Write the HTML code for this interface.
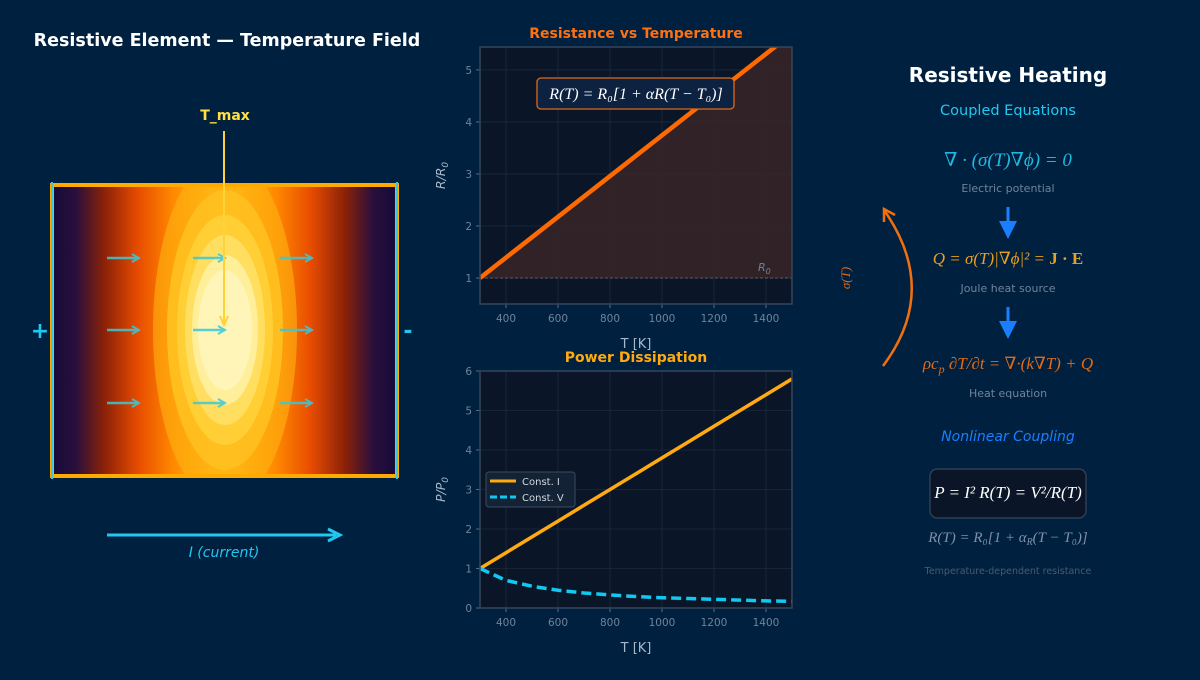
<!DOCTYPE html>
<html><head><meta charset="utf-8">
<style>
body{margin:0;background:#00203f;width:1200px;height:675px;overflow:hidden;font-family:"Liberation Sans","DejaVu Sans",sans-serif}
svg text{font-family:"DejaVu Sans","Liberation Sans",sans-serif}
.m{font-family:"Liberation Serif","DejaVu Serif",serif}
</style></head>
<body>
<svg width="1200" height="675" viewBox="0 0 1200 675">
<defs>
<linearGradient id="hg" x1="0" x2="1" y1="0" y2="0">
<stop offset="0" stop-color="#150b3a"/><stop offset="0.07" stop-color="#2a0f3c"/>
<stop offset="0.15" stop-color="#8a2108"/><stop offset="0.25" stop-color="#e84c00"/>
<stop offset="0.35" stop-color="#ff8800"/><stop offset="0.45" stop-color="#ffb010"/>
<stop offset="0.5" stop-color="#ffb814"/><stop offset="0.55" stop-color="#ffb010"/>
<stop offset="0.65" stop-color="#ff8800"/><stop offset="0.75" stop-color="#e84c00"/>
<stop offset="0.85" stop-color="#8a2108"/><stop offset="0.93" stop-color="#2a0f3c"/>
<stop offset="1" stop-color="#150b3a"/></linearGradient>
<clipPath id="hclip"><rect x="52" y="185" width="345" height="291"/></clipPath>
<marker id="ac" markerWidth="10" markerHeight="10" refX="8" refY="5" orient="auto" markerUnits="userSpaceOnUse"><path d="M1,1 L8,5 L1,9" fill="none" stroke="#3cc8d8" stroke-width="2"/></marker>
<marker id="ab" markerWidth="6" markerHeight="6" refX="3" refY="3" orient="auto"><path d="M0,0 L6,3 L0,6 z" fill="#1a7fff"/></marker>
</defs>

<!-- left panel -->
<text x="227" y="46" fill="#fff" font-size="17.5" font-weight="bold" text-anchor="middle">Resistive Element — Temperature Field</text>
<g>
<rect x="52" y="185" width="345" height="291" fill="url(#hg)"/>
<g clip-path="url(#hclip)">
<ellipse cx="225" cy="330" rx="72" ry="175" fill="#ffb310" opacity="0.6"/>
<ellipse cx="225" cy="330" rx="58" ry="140" fill="#ffc020" opacity="0.9"/>
<ellipse cx="225" cy="330" rx="48" ry="115" fill="#ffcf35"/>
<ellipse cx="225" cy="330" rx="40" ry="95" fill="#ffde60"/>
<ellipse cx="225" cy="330" rx="33" ry="75" fill="#ffee9a"/>
<ellipse cx="225" cy="330" rx="27" ry="60" fill="#fff5b8"/>
</g>
<rect x="52" y="185" width="345" height="291" fill="none" stroke="#ffaa00" stroke-width="4"/>
<line x1="52" y1="182" x2="52" y2="479" stroke="#3cc8d8" stroke-width="2"/>
<line x1="397" y1="182" x2="397" y2="479" stroke="#3cc8d8" stroke-width="2"/>
</g>
<g stroke="#3cc8d8" stroke-width="2.5" opacity="0.85">
<line x1="107" y1="258" x2="139" y2="258" marker-end="url(#ac)"/><line x1="193" y1="258" x2="225" y2="258" marker-end="url(#ac)"/><line x1="280" y1="258" x2="312" y2="258" marker-end="url(#ac)"/>
<line x1="107" y1="330" x2="139" y2="330" marker-end="url(#ac)"/><line x1="193" y1="330" x2="225" y2="330" marker-end="url(#ac)"/><line x1="280" y1="330" x2="312" y2="330" marker-end="url(#ac)"/>
<line x1="107" y1="403" x2="139" y2="403" marker-end="url(#ac)"/><line x1="193" y1="403" x2="225" y2="403" marker-end="url(#ac)"/><line x1="280" y1="403" x2="312" y2="403" marker-end="url(#ac)"/>
</g>
<text x="225" y="120" fill="#ffe040" font-size="14" font-weight="bold" text-anchor="middle">T_max</text>
<line x1="224" y1="131" x2="224" y2="322" stroke="#ffd23a" stroke-width="2"/>
<path d="M220,316 L224,325 L228,316" fill="none" stroke="#ffd23a" stroke-width="2"/>
<text x="40" y="338" fill="#20c8f0" font-size="22" font-weight="bold" text-anchor="middle">+</text>
<text x="408" y="338" fill="#20c8f0" font-size="22" font-weight="bold" text-anchor="middle">-</text>
<line x1="107" y1="535" x2="336" y2="535" stroke="#20c8f0" stroke-width="3"/>
<path d="M328,529 L340,535 L328,541" fill="none" stroke="#20c8f0" stroke-width="3"/>
<text x="224" y="557" fill="#20c8f0" font-size="14" font-style="italic" text-anchor="middle">I  (current)</text>

<!-- charts -->
<g id="c1"></g>
<g id="c2"></g>

<!-- right panel -->
<g>
<text x="1008" y="82" fill="#fff" font-size="20" font-weight="bold" text-anchor="middle">Resistive Heating</text>
<text x="1008" y="115" fill="#20c8f0" font-size="14.5" text-anchor="middle">Coupled Equations</text>
<text class="m" x="1008" y="166" fill="#20b8e0" font-size="19" text-anchor="middle" font-style="italic">∇ · (σ(T)∇ϕ) = 0</text>
<text x="1008" y="192" fill="#6f8399" font-size="11" text-anchor="middle">Electric potential</text>
<line x1="1008" y1="207" x2="1008" y2="230" stroke="#1a7fff" stroke-width="3" marker-end="url(#ab)"/>
<text class="m" x="1008" y="264" fill="#e8a020" font-size="17" text-anchor="middle" font-style="italic">Q = σ(T)|∇ϕ|² = <tspan font-weight="bold" font-style="normal">J · E</tspan></text>
<text x="1008" y="292" fill="#6f8399" font-size="11" text-anchor="middle">Joule heat source</text>
<line x1="1008" y1="307" x2="1008" y2="330" stroke="#1a7fff" stroke-width="3" marker-end="url(#ab)"/>
<text class="m" x="1008" y="369" fill="#e06a18" font-size="17" text-anchor="middle" font-style="italic">ρc<tspan font-size="12" dy="4">p</tspan><tspan dy="-4"> ∂T/∂t = ∇·(k∇T) + Q</tspan></text>
<text x="1008" y="397" fill="#6f8399" font-size="11" text-anchor="middle">Heat equation</text>
<text x="1008" y="441" fill="#1a7fff" font-size="14" font-style="italic" text-anchor="middle">Nonlinear Coupling</text>
<rect x="930" y="469" width="156" height="49" rx="7" fill="#0a1628" stroke="#2e3d52" stroke-width="1.5"/>
<text class="m" x="1008" y="498" fill="#fff" font-size="17" text-anchor="middle" font-style="italic">P = I² R(T) = V²/R(T)</text>
<text class="m" x="1008" y="542" fill="#8090a8" font-size="15" text-anchor="middle" font-style="italic">R(T) = R₀[1 + α<tspan font-size="10" dy="3">R</tspan><tspan dy="-3">(T − T₀)]</tspan></text>
<text x="1008" y="574" fill="#4a5a6e" font-size="9.5" text-anchor="middle">Temperature-dependent resistance</text>
<path d="M883,366 Q940,290 884,210" fill="none" stroke="#f07010" stroke-width="2.5"/>
<path d="M884,222 L884,209 L895,215" fill="none" stroke="#f07010" stroke-width="2.5"/>
<text class="m" x="850" y="278" fill="#e06a18" font-size="13" font-style="italic" text-anchor="middle" transform="rotate(-90 850 278)">σ(T)</text>
</g>
</svg>
<script>
const NS='http://www.w3.org/2000/svg';
const rT=[300,1500];
const rVal=[1.0,5.7];
const pT=[300,400,500,600,700,800,900,1000,1100,1200,1300,1400,1500];
const constI=[1.0,1.4,1.8,2.2,2.6,3.0,3.4,3.8,4.2,4.6,5.0,5.4,5.8];
const constV=[1.0,0.7,0.55,0.45,0.38,0.33,0.29,0.26,0.24,0.22,0.2,0.18,0.17];
const xTicks=[400,600,800,1000,1200,1400];
const r1Ticks=[1,2,3,4,5];
const p2Ticks=[0,1,2,3,4,5,6];
function el(p,t,a){const e=document.createElementNS(NS,t);for(const k in a)e.setAttribute(k,a[k]);p.appendChild(e);return e;}
function axes(g,L,R,T,B,xmin,xmax,ymin,ymax,yt,title,tcol,ylab){
 const X=v=>L+(v-xmin)/(xmax-xmin)*(R-L), Y=v=>B-(v-ymin)/(ymax-ymin)*(B-T);
 el(g,'rect',{x:L,y:T,width:R-L,height:B-T,fill:'#0a1628'});
 xTicks.forEach(v=>{el(g,'line',{x1:X(v),x2:X(v),y1:T,y2:B,stroke:'#1c2a3c','stroke-width':0.8});
  el(g,'line',{x1:X(v),x2:X(v),y1:B,y2:B+4,stroke:'#5a6a80'});
  const t=el(g,'text',{x:X(v),y:B+18,fill:'#6f8399','font-size':10.5,'text-anchor':'middle'});t.textContent=v;});
 yt.forEach(v=>{el(g,'line',{x1:L,x2:R,y1:Y(v),y2:Y(v),stroke:'#1c2a3c','stroke-width':0.8});
  el(g,'line',{x1:L-4,x2:L,y1:Y(v),y2:Y(v),stroke:'#5a6a80'});
  const t=el(g,'text',{x:L-8,y:Y(v)+4,fill:'#6f8399','font-size':10.5,'text-anchor':'end'});t.textContent=v;});
 const tt=el(g,'text',{x:(L+R)/2,y:T-9,fill:tcol,'font-size':14,'font-weight':'bold','text-anchor':'middle'});tt.textContent=title;
 const xl=el(g,'text',{x:(L+R)/2,y:B+44,fill:'#a8b8cc','font-size':13,'text-anchor':'middle'});xl.textContent='T [K]';
 const yl=el(g,'text',{x:0,y:0,fill:'#a8b8cc','font-size':12.5,'font-style':'italic','text-anchor':'middle',transform:`translate(${L-35},${(T+B)/2}) rotate(-90)`});yl.innerHTML=ylab;
 return {X,Y};
}
// chart 1
const g1=document.getElementById('c1');
const a1=axes(g1,480,792,47,304,300,1500,0.5,5.44,r1Ticks,'Resistance vs Temperature','#ff7010','R/R<tspan font-size="9" dy="3">0</tspan>');
const cp=el(g1,'clipPath',{id:'cl1'});el(cp,'rect',{x:480,y:47,width:312,height:257});
const fill=el(g1,'path',{d:`M${a1.X(rT[0])},${a1.Y(rVal[0])} L${a1.X(rT[1])},${a1.Y(rVal[1])} L${a1.X(rT[1])},${a1.Y(1)} L${a1.X(rT[0])},${a1.Y(1)}Z`,fill:'#3a2626',opacity:0.8,'clip-path':'url(#cl1)'});


el(g1,'line',{x1:480,x2:792,y1:a1.Y(1),y2:a1.Y(1),stroke:'#6a5a50','stroke-dasharray':'3,2','stroke-width':1});
const l1=el(g1,'line',{x1:a1.X(rT[0]),y1:a1.Y(rVal[0]),x2:a1.X(rT[1]),y2:a1.Y(rVal[1]),stroke:'#ff6a00','stroke-width':4.5,'clip-path':'url(#cl1)'});


el(g1,'rect',{x:480,y:47,width:312,height:257,fill:'none',stroke:'#34465c','stroke-width':1.5});
const r0=el(g1,'text',{x:758,y:271,fill:'#6f8399','font-size':11,'font-style':'italic'});r0.innerHTML='R<tspan font-size="8" dy="3">0</tspan>';
const bx=el(g1,'rect',{x:537,y:78,width:197,height:31,rx:4,fill:'#0c2240',stroke:'#e06a18','stroke-width':1.3});


const ft=el(g1,'text',{x:636,y:99,fill:'#fff','font-size':16,'text-anchor':'middle','font-style':'italic',class:'m'});ft.textContent='R(T) = R₀[1 + αR(T − T₀)]';
// chart 2
const g2=document.getElementById('c2');
const a2=axes(g2,480,792,371,608,300,1500,0,6,p2Ticks,'Power Dissipation','#ffaa10','P/P<tspan font-size="9" dy="3">0</tspan>');
const pI=el(g2,'polyline',{points:pT.map((t,i)=>a2.X(t)+','+a2.Y(constI[i])).join(' '),fill:'none',stroke:'#ffaa10','stroke-width':3.5});


const pV=el(g2,'polyline',{points:pT.map((t,i)=>a2.X(t)+','+a2.Y(constV[i])).join(' '),fill:'none',stroke:'#10c8f0','stroke-width':3.5,'stroke-dasharray':'10,5'});


el(g2,'rect',{x:480,y:371,width:312,height:237,fill:'none',stroke:'#34465c','stroke-width':1.5});
const lg=el(g2,'g',{});


el(lg,'rect',{x:486,y:472,width:89,height:35,rx:3,fill:'#142236',stroke:'#3a4a60'});
el(lg,'line',{x1:490,x2:516,y1:481,y2:481,stroke:'#ffaa10','stroke-width':3});
el(lg,'line',{x1:490,x2:516,y1:497,y2:497,stroke:'#10c8f0','stroke-width':3,'stroke-dasharray':'7,3'});
const t1=el(lg,'text',{x:522,y:485,fill:'#d0d8e0','font-size':10});t1.textContent='Const. I';
const t2=el(lg,'text',{x:522,y:501,fill:'#d0d8e0','font-size':10});t2.textContent='Const. V';
</script>
</body></html>
